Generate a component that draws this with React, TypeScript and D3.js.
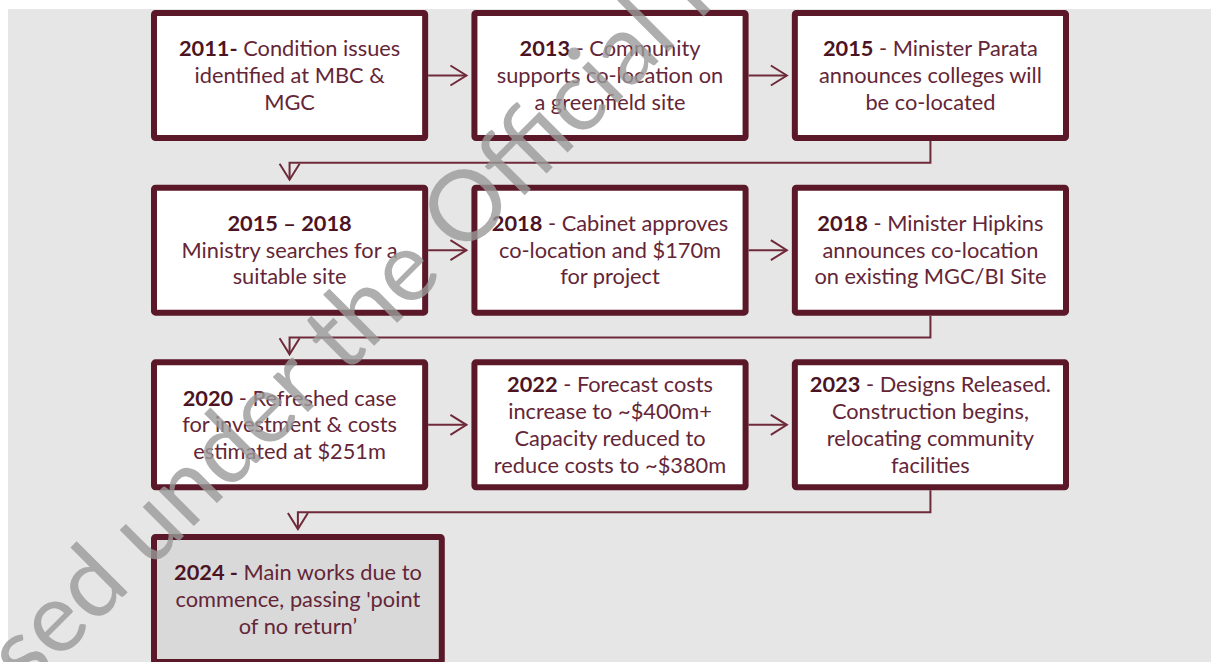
import React from "react";
import * as d3 from "d3";

// ---- Data ----
const eventYears: string[] = ["2011-", "2013", "2015", "2015 – 2018", "2018", "2018", "2020", "2022", "2023", "2024 -"];
const eventLeads: string[] = [
  " Condition issues",
  " - Community",
  " - Minister Parata",
  "",
  " - Cabinet approves",
  " - Minister Hipkins",
  " - Refreshed case",
  " - Forecast costs",
  " - Designs Released.",
  " Main works due to",
];
const eventBodies: string[][] = [
  ["identified at MBC &", "MGC"],
  ["supports co-location on", "a greenfield site"],
  ["announces colleges will", "be co-located"],
  ["Ministry searches for a", "suitable site"],
  ["co-location and $170m", "for project"],
  ["announces co-location", "on existing MGC/BI Site"],
  ["for investment & costs", "estimated at $251m"],
  ["increase to ~$400m+", "Capacity reduced to", "reduce costs to ~$380m"],
  ["Construction begins,", "relocating community", "facilities"],
  ["commence, passing 'point", "of no return’"],
];
const watermarkText = "Released under the Official Information Act";

// ---- Style ----
const W = 1211;
const H = 662;
const BG = "#e6e6e6";
const BOX_STROKE = "#5a1828";
const LINE = "#6e2a3a";
const TEXT = "#642637";
const TEXT_BOLD = "#4c1422";
const FONT = "Lato, 'Open Sans', sans-serif";
const FS = 21.8;
const LH = 26.7;
const SW = 6;

export default function App() {
  const perRow = 3;
  const cols = d3.range(perRow);
  const rows = d3.range(Math.ceil(eventYears.length / perRow));
  const x = d3.scaleBand<number>().domain(cols).range([151, 1069]).paddingInner(0.135);
  const y = d3.scaleBand<number>().domain(rows).range([10, 665]).paddingInner(0.25);
  const bw = x.bandwidth();
  const bh = y.bandwidth();

  const boxes = eventYears.map((yr, i) => {
    const c = i % perRow;
    const r = Math.floor(i / perRow);
    const isLast = i === eventYears.length - 1;
    const w = isLast ? bw * 1.06 : bw;
    const x0 = x(c)!;
    const y0 = y(r)!;
    const lines: { bold: string; rest: string }[] = [];
    lines.push({ bold: yr, rest: eventLeads[i] });
    eventBodies[i].forEach((t) => lines.push({ bold: "", rest: t }));
    return { i, c, r, x0, y0, w, h: bh, isLast, lines };
  });

  const AL = 16; // arrow length
  const AW = 10; // arrow half width
  const GAP = 5;

  const connectors: { d: string; head: string }[] = [];
  for (let i = 0; i < boxes.length - 1; i++) {
    const a = boxes[i];
    const b = boxes[i + 1];
    if (a.r === b.r) {
      const yc = a.y0 + a.h / 2;
      const xs = a.x0 + a.w;
      const xe = b.x0 - GAP;
      const line = d3.line()([[xs, yc], [xe, yc]])!;
      const head = d3.line()([[xe - AL, yc - AW], [xe, yc], [xe - AL, yc + AW]])!;
      connectors.push({ d: line, head });
    } else {
      const xs = a.x0 + a.w / 2;
      const ys = a.y0 + a.h;
      const ym = (ys + b.y0) / 2;
      const xt = b.x0 + b.w / 2;
      const ye = b.y0 - GAP;
      const line = d3.line()([[xs, ys], [xs, ym], [xt, ym], [xt, ye]])!;
      const head = d3.line()([[xt - AW, ye - AL], [xt, ye], [xt + AW, ye - AL]])!;
      connectors.push({ d: line, head });
    }
  }

  // watermark geometry
  const wmAngle = -45;
  const wmFs = 98;
  const wmX = -138;
  const wmY = 858;

  return (
    <svg
      width={W}
      height={H}
      viewBox={`0 0 ${W} ${H}`}
      style={{ position: "absolute", left: 0, top: 0, display: "block" }}
    >
      <rect x={0} y={0} width={W} height={H} fill="#ffffff" />
      <rect x={8} y={9} width={W - 8} height={H - 9} fill={BG} />

      {connectors.map((c, k) => (
        <g key={k} fill="none" stroke={LINE} strokeWidth={2}>
          <path d={c.d} />
          <path d={c.head} strokeLinejoin="miter" />
        </g>
      ))}

      {boxes.map((b) => {
        const cx = b.x0 + b.w / 2;
        const cy = b.y0 + b.h / 2;
        const n = b.lines.length;
        const first = cy - ((n - 1) * LH) / 2;
        return (
          <g key={b.i}>
            <rect
              x={b.x0 + SW / 2}
              y={b.y0 + SW / 2}
              width={b.w - SW}
              height={b.h - SW}
              fill={b.isLast ? "#d9d9d9" : "#ffffff"}
              stroke={BOX_STROKE}
              strokeWidth={SW}
              rx={1.5}
            />
            {b.lines.map((ln, k) => (
              <text
                key={k}
                x={cx}
                y={first + k * LH}
                dy="0.35em"
                textAnchor="middle"
                fontFamily={FONT}
                fontSize={FS}
                fill={TEXT}
              >
                {ln.bold ? (
                  <tspan fontWeight="bold" fill={TEXT_BOLD}>
                    {ln.bold}
                  </tspan>
                ) : null}
                {ln.rest ? <tspan>{ln.rest}</tspan> : null}
              </text>
            ))}
          </g>
        );
      })}

      <text
        x={wmX}
        y={wmY}
        transform={`rotate(${wmAngle}, ${wmX}, ${wmY})`}
        fontFamily={FONT}
        fontSize={wmFs}
        fill="#9a9a9a"
        opacity={0.8}
      >
        {watermarkText}
      </text>
    </svg>
  );
}
